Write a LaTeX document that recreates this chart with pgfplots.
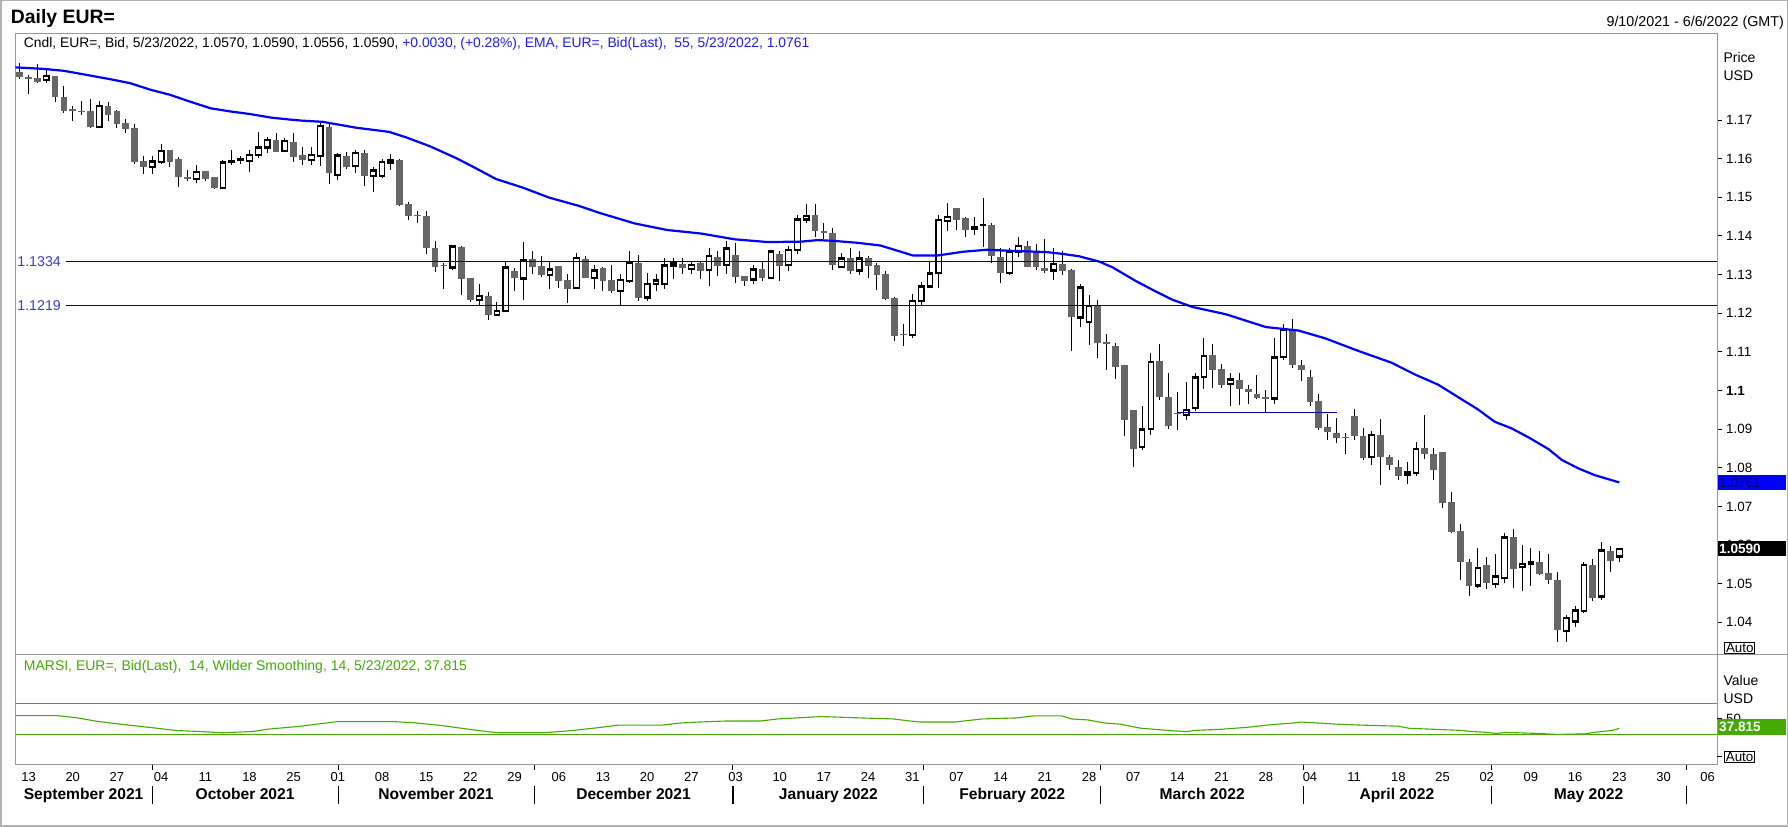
\documentclass[border=0pt]{standalone}
\usepackage{pgfplots}
\pgfplotsset{compat=1.18}
\usepackage{pgfplotstable}
\usepackage{fontspec}
\setmainfont{Liberation Sans}
\newcommand\fs[1]{\fontsize{#1pt}{#1pt}\selectfont}
\definecolor{bearc}{RGB}{102,102,102}
\definecolor{emac}{RGB}{0,0,255}
\definecolor{hlc}{RGB}{0,0,150}
\definecolor{hlabc}{RGB}{60,60,200}
\definecolor{rsic}{RGB}{68,170,0}
\definecolor{framec}{RGB}{150,150,165}
\definecolor{hdrblue}{RGB}{30,30,235}

\pgfplotstableread{
i O H L C
2 1.1803 1.1828 1.1795 1.1814
8 1.1681 1.1749 1.1681 1.1736
14 1.1578 1.1607 1.1559 1.1592
15 1.1591 1.1638 1.1585 1.1620
19 1.1547 1.1583 1.1536 1.1565
22 1.1524 1.1597 1.1524 1.1590
23 1.1591 1.1622 1.1584 1.1593
24 1.1597 1.1607 1.1585 1.1598
25 1.1594 1.1622 1.1566 1.1609
26 1.1609 1.1668 1.1601 1.1629
27 1.1629 1.1655 1.1614 1.1648
29 1.1620 1.1653 1.1616 1.1646
32 1.1597 1.1629 1.1584 1.1609
33 1.1607 1.1693 1.1581 1.1684
35 1.1558 1.1614 1.1545 1.1608
37 1.1580 1.1621 1.1562 1.1614
39 1.1555 1.1577 1.1514 1.1569
40 1.1555 1.1599 1.1549 1.1591
41 1.1590 1.1612 1.1571 1.1595
48 1.1318 1.1377 1.1311 1.1372
51 1.1234 1.1275 1.1222 1.1245
53 1.1195 1.1229 1.1195 1.1206
54 1.1205 1.1333 1.1202 1.1318
56 1.1290 1.1384 1.1234 1.1336
59 1.1299 1.1334 1.1263 1.1313
62 1.1265 1.1356 1.1262 1.1342
64 1.1291 1.1324 1.1263 1.1310
67 1.1257 1.1302 1.1220 1.1285
68 1.1283 1.1360 1.1279 1.1329
70 1.1240 1.1303 1.1231 1.1276
71 1.1276 1.1302 1.1257 1.1284
72 1.1276 1.1342 1.1263 1.1323
73 1.1323 1.1342 1.1289 1.1328
75 1.1315 1.1332 1.1302 1.1324
77 1.1311 1.1368 1.1270 1.1348
79 1.1324 1.1386 1.1300 1.1367
82 1.1287 1.1324 1.1276 1.1313
84 1.1291 1.1363 1.1289 1.1360
86 1.1324 1.1375 1.1309 1.1364
87 1.1364 1.1453 1.1354 1.1442
88 1.1442 1.1482 1.1434 1.1452
92 1.1319 1.1356 1.1316 1.1341
94 1.1310 1.1360 1.1299 1.1341
100 1.1143 1.1249 1.1135 1.1231
101 1.1231 1.1281 1.1221 1.1269
102 1.1269 1.1334 1.1266 1.1303
103 1.1304 1.1454 1.1266 1.1441
104 1.1439 1.1486 1.1412 1.1449
107 1.1418 1.1449 1.1401 1.1423
108 1.1428 1.1499 1.1372 1.1428
111 1.1304 1.1369 1.1299 1.1358
112 1.1358 1.1397 1.1344 1.1373
116 1.1310 1.1369 1.1285 1.1327
119 1.1189 1.1275 1.1163 1.1266
120 1.1177 1.1246 1.1118 1.1218
126 1.0854 1.0959 1.0846 1.0899
127 1.0901 1.1096 1.0886 1.1074
131 1.0937 1.1022 1.0923 1.0950
132 1.0955 1.1046 1.0947 1.1033
133 1.1035 1.1136 1.1005 1.1089
136 1.1017 1.1046 1.0959 1.1028
141 1.0979 1.1136 1.0966 1.1085
142 1.1087 1.1171 1.1080 1.1157
152 1.0828 1.0894 1.0807 1.0885
156 1.0782 1.0814 1.0759 1.0788
157 1.0786 1.0867 1.0779 1.0848
164 1.0495 1.0593 1.0490 1.0540
166 1.0499 1.0577 1.0490 1.0519
167 1.0514 1.0630 1.0503 1.0620
169 1.0543 1.0600 1.0480 1.0551
170 1.0551 1.0592 1.0493 1.0556
174 1.0378 1.0420 1.0348 1.0411
175 1.0402 1.0443 1.0387 1.0431
176 1.0430 1.0555 1.0425 1.0549
178 1.0467 1.0607 1.0458 1.0586
180 1.0570 1.0590 1.0556 1.0590
}\bull

\pgfplotstableread{
i O H L C
-1 1.1823 1.1848 1.1805 1.1812
0 1.1812 1.1816 1.1766 1.1805
1 1.1808 1.1845 1.1795 1.1799
3 1.1814 1.1814 1.1747 1.1760
4 1.1759 1.1788 1.1719 1.1722
5 1.1728 1.1736 1.1696 1.1722
6 1.1722 1.1749 1.1712 1.1721
7 1.1723 1.1754 1.1680 1.1682
9 1.1736 1.1747 1.1696 1.1712
10 1.1724 1.1726 1.1680 1.1690
11 1.1692 1.1703 1.1665 1.1677
12 1.1679 1.1690 1.1585 1.1592
13 1.1594 1.1607 1.1559 1.1579
16 1.1622 1.1622 1.1578 1.1592
17 1.1599 1.1603 1.1526 1.1553
18 1.1553 1.1571 1.1543 1.1548
20 1.1568 1.1568 1.1542 1.1547
21 1.1553 1.1553 1.1521 1.1525
28 1.1648 1.1665 1.1616 1.1618
30 1.1643 1.1666 1.1590 1.1605
31 1.1609 1.1629 1.1584 1.1597
34 1.1682 1.1693 1.1534 1.1563
36 1.1606 1.1616 1.1573 1.1578
38 1.1614 1.1621 1.1529 1.1555
42 1.1596 1.1599 1.1477 1.1479
43 1.1483 1.1488 1.1442 1.1451
44 1.1455 1.1464 1.1432 1.1451
45 1.1452 1.1465 1.1353 1.1368
46 1.1368 1.1386 1.1307 1.1320
47 1.1323 1.1330 1.1262 1.1321
49 1.1372 1.1375 1.1247 1.1289
50 1.1292 1.1292 1.1229 1.1233
52 1.1245 1.1256 1.1182 1.1195
55 1.1308 1.1316 1.1257 1.1290
57 1.1340 1.1360 1.1301 1.1320
58 1.1322 1.1348 1.1294 1.1299
60 1.1322 1.1322 1.1266 1.1283
61 1.1285 1.1301 1.1227 1.1263
63 1.1341 1.1347 1.1291 1.1291
65 1.1316 1.1320 1.1257 1.1283
66 1.1285 1.1325 1.1253 1.1257
69 1.1329 1.1350 1.1231 1.1240
74 1.1328 1.1343 1.1302 1.1317
76 1.1329 1.1335 1.1289 1.1309
78 1.1346 1.1360 1.1296 1.1322
80 1.1351 1.1381 1.1279 1.1293
81 1.1297 1.1297 1.1270 1.1283
83 1.1313 1.1334 1.1283 1.1291
85 1.1352 1.1360 1.1283 1.1322
89 1.1453 1.1482 1.1398 1.1413
90 1.1412 1.1434 1.1391 1.1408
91 1.1408 1.1421 1.1311 1.1324
93 1.1342 1.1368 1.1301 1.1310
95 1.1342 1.1349 1.1290 1.1322
96 1.1324 1.1330 1.1260 1.1299
97 1.1301 1.1310 1.1233 1.1236
98 1.1238 1.1243 1.1129 1.1142
99 1.1144 1.1173 1.1115 1.1143
105 1.1471 1.1471 1.1414 1.1442
106 1.1445 1.1449 1.1397 1.1414
109 1.1429 1.1432 1.1329 1.1349
110 1.1344 1.1369 1.1279 1.1304
113 1.1373 1.1386 1.1320 1.1320
114 1.1362 1.1379 1.1311 1.1320
115 1.1316 1.1392 1.1304 1.1310
117 1.1327 1.1360 1.1298 1.1310
118 1.1311 1.1315 1.1102 1.1189
121 1.1218 1.1233 1.1085 1.1124
122 1.1126 1.1147 1.1053 1.1119
123 1.1115 1.1123 1.1030 1.1061
124 1.1066 1.1066 1.0881 1.0923
125 1.0950 1.0950 1.0802 1.0848
128 1.1075 1.1121 1.0975 1.0983
129 1.0982 1.1044 1.0899 1.0908
130 1.0942 1.0995 1.0897 1.0938
134 1.1091 1.1119 1.1006 1.1054
135 1.1056 1.1069 1.1007 1.1014
137 1.1026 1.1044 1.0962 1.1004
138 1.1003 1.1013 1.0966 1.0997
139 1.0992 1.1039 1.0977 1.0981
140 1.0984 1.1000 1.0942 1.0978
143 1.1156 1.1184 1.1057 1.1066
144 1.1065 1.1078 1.1024 1.1053
145 1.1036 1.1054 1.0960 1.0970
146 1.0972 1.0990 1.0897 1.0902
147 1.0905 1.0938 1.0872 1.0892
148 1.0891 1.0929 1.0864 1.0877
149 1.0878 1.0891 1.0835 1.0877
150 1.0935 1.0951 1.0872 1.0882
151 1.0881 1.0903 1.0819 1.0824
153 1.0885 1.0925 1.0755 1.0828
154 1.0829 1.0834 1.0794 1.0807
155 1.0803 1.0821 1.0767 1.0778
158 1.0850 1.0937 1.0822 1.0835
159 1.0836 1.0850 1.0767 1.0793
160 1.0841 1.0841 1.0695 1.0710
161 1.0712 1.0737 1.0632 1.0635
162 1.0637 1.0655 1.0510 1.0555
163 1.0556 1.0563 1.0469 1.0493
165 1.0549 1.0570 1.0487 1.0503
168 1.0622 1.0642 1.0490 1.0539
171 1.0556 1.0585 1.0523 1.0525
172 1.0528 1.0577 1.0499 1.0510
173 1.0510 1.0531 1.0350 1.0379
177 1.0549 1.0564 1.0455 1.0464
179 1.0585 1.0598 1.0529 1.0560
}\bear

\pgfplotstableread{
i v
-1.5 1.1836
1.7 1.1832
4 1.1827
6.2 1.1818
9.3 1.1805
11.5 1.1795
13.8 1.1778
16 1.1765
18.3 1.1747
20.6 1.1730
22.8 1.1722
25.1 1.1715
27.4 1.1706
29.5 1.1701
31 1.1698
33.3 1.1695
37 1.1680
40.8 1.1669
42.7 1.1655
45.4 1.1632
48.4 1.1601
50.6 1.1575
52.9 1.1547
55.9 1.1525
58.9 1.1499
62.2 1.1478
64.8 1.1458
68.6 1.1432
72.3 1.1415
76.1 1.1406
79.9 1.1391
83.6 1.1384
87.4 1.1385
89.3 1.1389
91.1 1.1387
93.8 1.1382
96.4 1.1375
100.1 1.1349
102.8 1.1349
105.8 1.1359
108.4 1.1364
111.4 1.1361
115.2 1.1358
117.1 1.1353
118.9 1.1347
121.2 1.1333
122.7 1.1318
125.3 1.1283
127.3 1.1259
129.4 1.1235
131.7 1.1216
135.5 1.1197
140 1.1164
143.7 1.1155
146.7 1.1135
150.5 1.1102
154.2 1.1072
156.9 1.1041
159.5 1.1015
162.3 1.0975
164 1.0951
165.9 1.0919
167.8 1.0902
169.7 1.0879
172 1.0848
173.5 1.0820
175.4 1.0798
177.2 1.0781
180 1.0762
}\ema

\pgfplotstableread{
i v
-1.5 54.2
3.3 54.2
5.4 51.6
7.6 47.2
10.6 43.0
14.1 38.6
16.7 35.1
19.3 33.9
21.9 32.2
25.4 33.9
27.1 36.9
30.6 40.4
34.9 46.5
41.4 46.5
43.5 45.2
46.6 41.7
50.5 35.7
53.1 32.2
58.3 32.2
61.7 35.3
64.7 39.1
66.7 42.0
71.6 42.0
73.7 44.7
75.8 46.0
78.8 47.3
82.8 47.3
84.8 50.0
87.7 51.8
89.8 53.1
92.8 51.8
97.8 50.0
99.8 47.3
100.9 46.0
104.8 46.0
106.9 48.7
107.9 50.0
111.8 51.3
113.8 54.0
116.9 54.0
118.0 50.0
119.9 48.7
121.8 44.7
123.5 43.3
125.9 38.0
128.9 35.3
131.0 33.6
132.0 35.3
134.9 36.7
138.0 39.3
140.0 42.0
143.0 44.7
144.0 46.0
146.0 44.7
148.0 43.3
151.0 42.0
155.0 40.7
156.2 38.0
159.0 36.7
162.1 35.3
163.1 34.0
165.0 32.7
166.1 31.3
167.1 32.7
171.0 31.3
173.0 30.0
176.2 30.9
177.1 32.7
178.2 34.0
179.2 35.3
180.0 37.8
}\rsi

\begin{document}
\begin{tikzpicture}[x=1pt,y=1pt]
\useasboundingbox (0,0) rectangle (1788,827);
\fill[white] (0,0) rectangle (1788,827);
\draw[gray!60, line width=1.5pt] (0.75,0.75) rectangle (1787.25,826.25);

% ---------------- price panel ----------------
\begin{axis}[at={(15.3pt,172pt)}, anchor=south west, scale only axis,
  width=1702.1pt, height=621.7pt,
  xmin=-1.5, xmax=191.1, ymin=1.03155, ymax=1.19241,
  axis line style={draw=framec, line width=1pt},
  xtick=\empty,
  ytick={1.04,1.05,1.06,1.07,1.08,1.09,1.1,1.11,1.12,1.13,1.14,1.15,1.16,1.17},
  yticklabels={1.04,1.05,1.06,1.07,1.08,1.09,\textbf{1.1},1.11,1.12,1.13,1.14,1.15,1.16,1.17},
  ytick pos=right, yticklabel pos=right, tick align=outside, major tick length=5pt,
  ytick style={draw=black, line width=0.8pt},
  yticklabel style={font=\fs{13.4}, anchor=west, inner sep=0pt, xshift=3.6pt},
  clip mode=individual,
]
% wicks
\addplot[black, line width=1pt, -, quiver={u=0, v=\thisrow{H}-\thisrow{L}}] table[x=i, y=L]{\bear};
\addplot[black, line width=1pt, -, quiver={u=0, v=\thisrow{H}-\thisrow{L}}] table[x=i, y=L]{\bull};
% bodies
\addplot[bearc, line width=6.8pt, -, quiver={u=0, v={max(\thisrow{O}-\thisrow{C},0.00026)}}] table[x=i, y=C]{\bear};
\addplot[black, line width=6.8pt, -, quiver={u=0, v=\thisrow{C}-\thisrow{O}+0.00062}] table[x=i, y expr=\thisrow{O}-0.00031]{\bull};
\addplot[white, line width=4.4pt, -, quiver={u=0, v={max(\thisrow{C}-\thisrow{O}-0.00062,0)}}] table[x=i, y expr=\thisrow{O}+0.00031]{\bull};
% EMA
\addplot[emac, line width=2.2pt] table[x=i, y=v]{\ema};
% drawn horizontal lines
\addplot[hlc, line width=1.2pt] coordinates {(4.2,1.1334) (191.1,1.1334)};
\addplot[hlc, line width=1.2pt] coordinates {(4.2,1.1219) (191.1,1.1219)};
\addplot[hlc, line width=1.2pt] coordinates {(130.1,1.0942) (148.0,1.0942)};
\node[anchor=west, inner sep=0pt, font=\fs{14.2}, text=hlabc, xshift=1.9pt] at (axis cs:-1.5,1.1334) {1.1334};
\node[anchor=west, inner sep=0pt, font=\fs{14.2}, text=hlabc, xshift=1.9pt] at (axis cs:-1.5,1.1219) {1.1219};
\end{axis}

% ---------------- RSI panel ----------------
\begin{axis}[at={(15.3pt,62.4pt)}, anchor=south west, scale only axis,
  width=1702.1pt, height=109.6pt,
  xmin=-1.5, xmax=191.1, ymin=-8.7, ymax=132.2,
  axis line style={draw=framec, line width=1pt},
  ytick=\empty,
  xtick={0,5,...,190},
  xticklabels={13,20,27,04,11,18,25,01,08,15,22,29,06,13,20,27,03,10,17,24,31,07,14,21,28,07,14,21,28,04,11,18,25,02,09,16,23,30,06},
  xtick style={draw=none}, major tick length=0pt,
  xticklabel style={font=\fs{13}, inner sep=0pt, anchor=north, yshift=-8.1pt},
]
\addplot[rsic, line width=1.2pt] coordinates {(-1.5,70) (191.1,70)};
\addplot[rsic, line width=1.2pt] coordinates {(-1.5,30) (191.1,30)};
\addplot[rsic, line width=1.1pt] table[x=i, y=v]{\rsi};
\end{axis}

% divider extension
\draw[framec, line width=1pt] (1717.4,172) -- (1788,172);

% ---------------- texts ----------------
\node[anchor=base west, inner sep=0pt] at (10.7,803.4) {\fs{19.4}\bfseries Daily EUR=};
\node[anchor=base east, inner sep=0pt] at (1784,800.9) {\fs{14.3}9/10/2021 - 6/6/2022 (GMT)};
\node[anchor=base west, inner sep=0pt] at (23.7,779.3) {\fs{13.85}Cndl, EUR=, Bid, 5/23/2022, 1.0570, 1.0590, 1.0556, 1.0590, \textcolor{hdrblue}{+0.0030, (+0.28\%), EMA, EUR=, Bid(Last),\ \ 55, 5/23/2022, 1.0761}};
\node[anchor=base west, inner sep=0pt, text=rsic] at (23.7,156) {\fs{14}MARSI, EUR=, Bid(Last),\ \ 14, Wilder Smoothing, 14, 5/23/2022, 37.815};

\node[anchor=base west, inner sep=0pt] at (1723.4,764.5) {\fs{14}Price};
\node[anchor=base west, inner sep=0pt] at (1723.4,746.5) {\fs{14}USD};
\node[anchor=base west, inner sep=0pt] at (1723.4,141) {\fs{14}Value};
\node[anchor=base west, inner sep=0pt] at (1723.4,123) {\fs{14}USD};

% RSI right ticks
\draw[black, line width=0.8pt] (1717.4,108.1) -- (1722.4,108.1);
\node[anchor=west, inner sep=0pt] at (1726,108.1) {\fs{13.4}50};
\draw[black, line width=0.8pt] (1717.4,70.4) -- (1722.4,70.4);
\node[draw=black, fill=white, line width=0.8pt, inner xsep=1.2pt, inner ysep=1pt, anchor=west] at (1724.2,70.4) {\fs{13.4}Auto};
\node[draw=black, fill=white, line width=0.8pt, inner xsep=1.2pt, inner ysep=1pt, anchor=west] at (1724.4,179.4) {\fs{13.4}Auto};

% value boxes
\fill[emac] (1717.7,336.6) rectangle (1786.2,351.9);
\node[anchor=west, inner sep=0pt, text={rgb,255:red,0;green,0;blue,90}] at (1719,344.2) {\fs{13.6}1.0761};
\fill[black] (1717.7,270.7) rectangle (1786.2,285.5);
\node[anchor=west, inner sep=0pt, text=white] at (1719,278.1) {\fs{13.6}\bfseries 1.0590};
\fill[rsic] (1717.7,91.7) rectangle (1786.2,107.8);
\node[anchor=west, inner sep=0pt, text=white] at (1719,99.75) {\fs{13.6}\bfseries 37.815};

% month boundary ticks and separators
\foreach \mx in {152.3,338.3,534.1,732.9,923.8,1100.6,1303.8,1491.2,1686.5}{
  \draw[black, line width=1pt] (\mx,62.4) -- (\mx,57);
}
\foreach \mx in {152.3,338.3,534.1,732.9,923.8,1100.6,1303.8,1491.2,1686.5}{
  \draw[black, line width=1.2pt] (\mx,41.2) -- (\mx,22.8);
}
\foreach \mx/\mt in {83.6/September 2021, 245.1/October 2021, 436.0/November 2021, 633.5/December 2021, 828.4/January 2022, 1012.2/February 2022, 1202.2/March 2022, 1396.9/April 2022, 1588.6/May 2022}{
  \node[anchor=base, inner sep=0pt] at (\mx,27.2) {\fs{15.6}\bfseries \mt};
}
\end{tikzpicture}
\end{document}
